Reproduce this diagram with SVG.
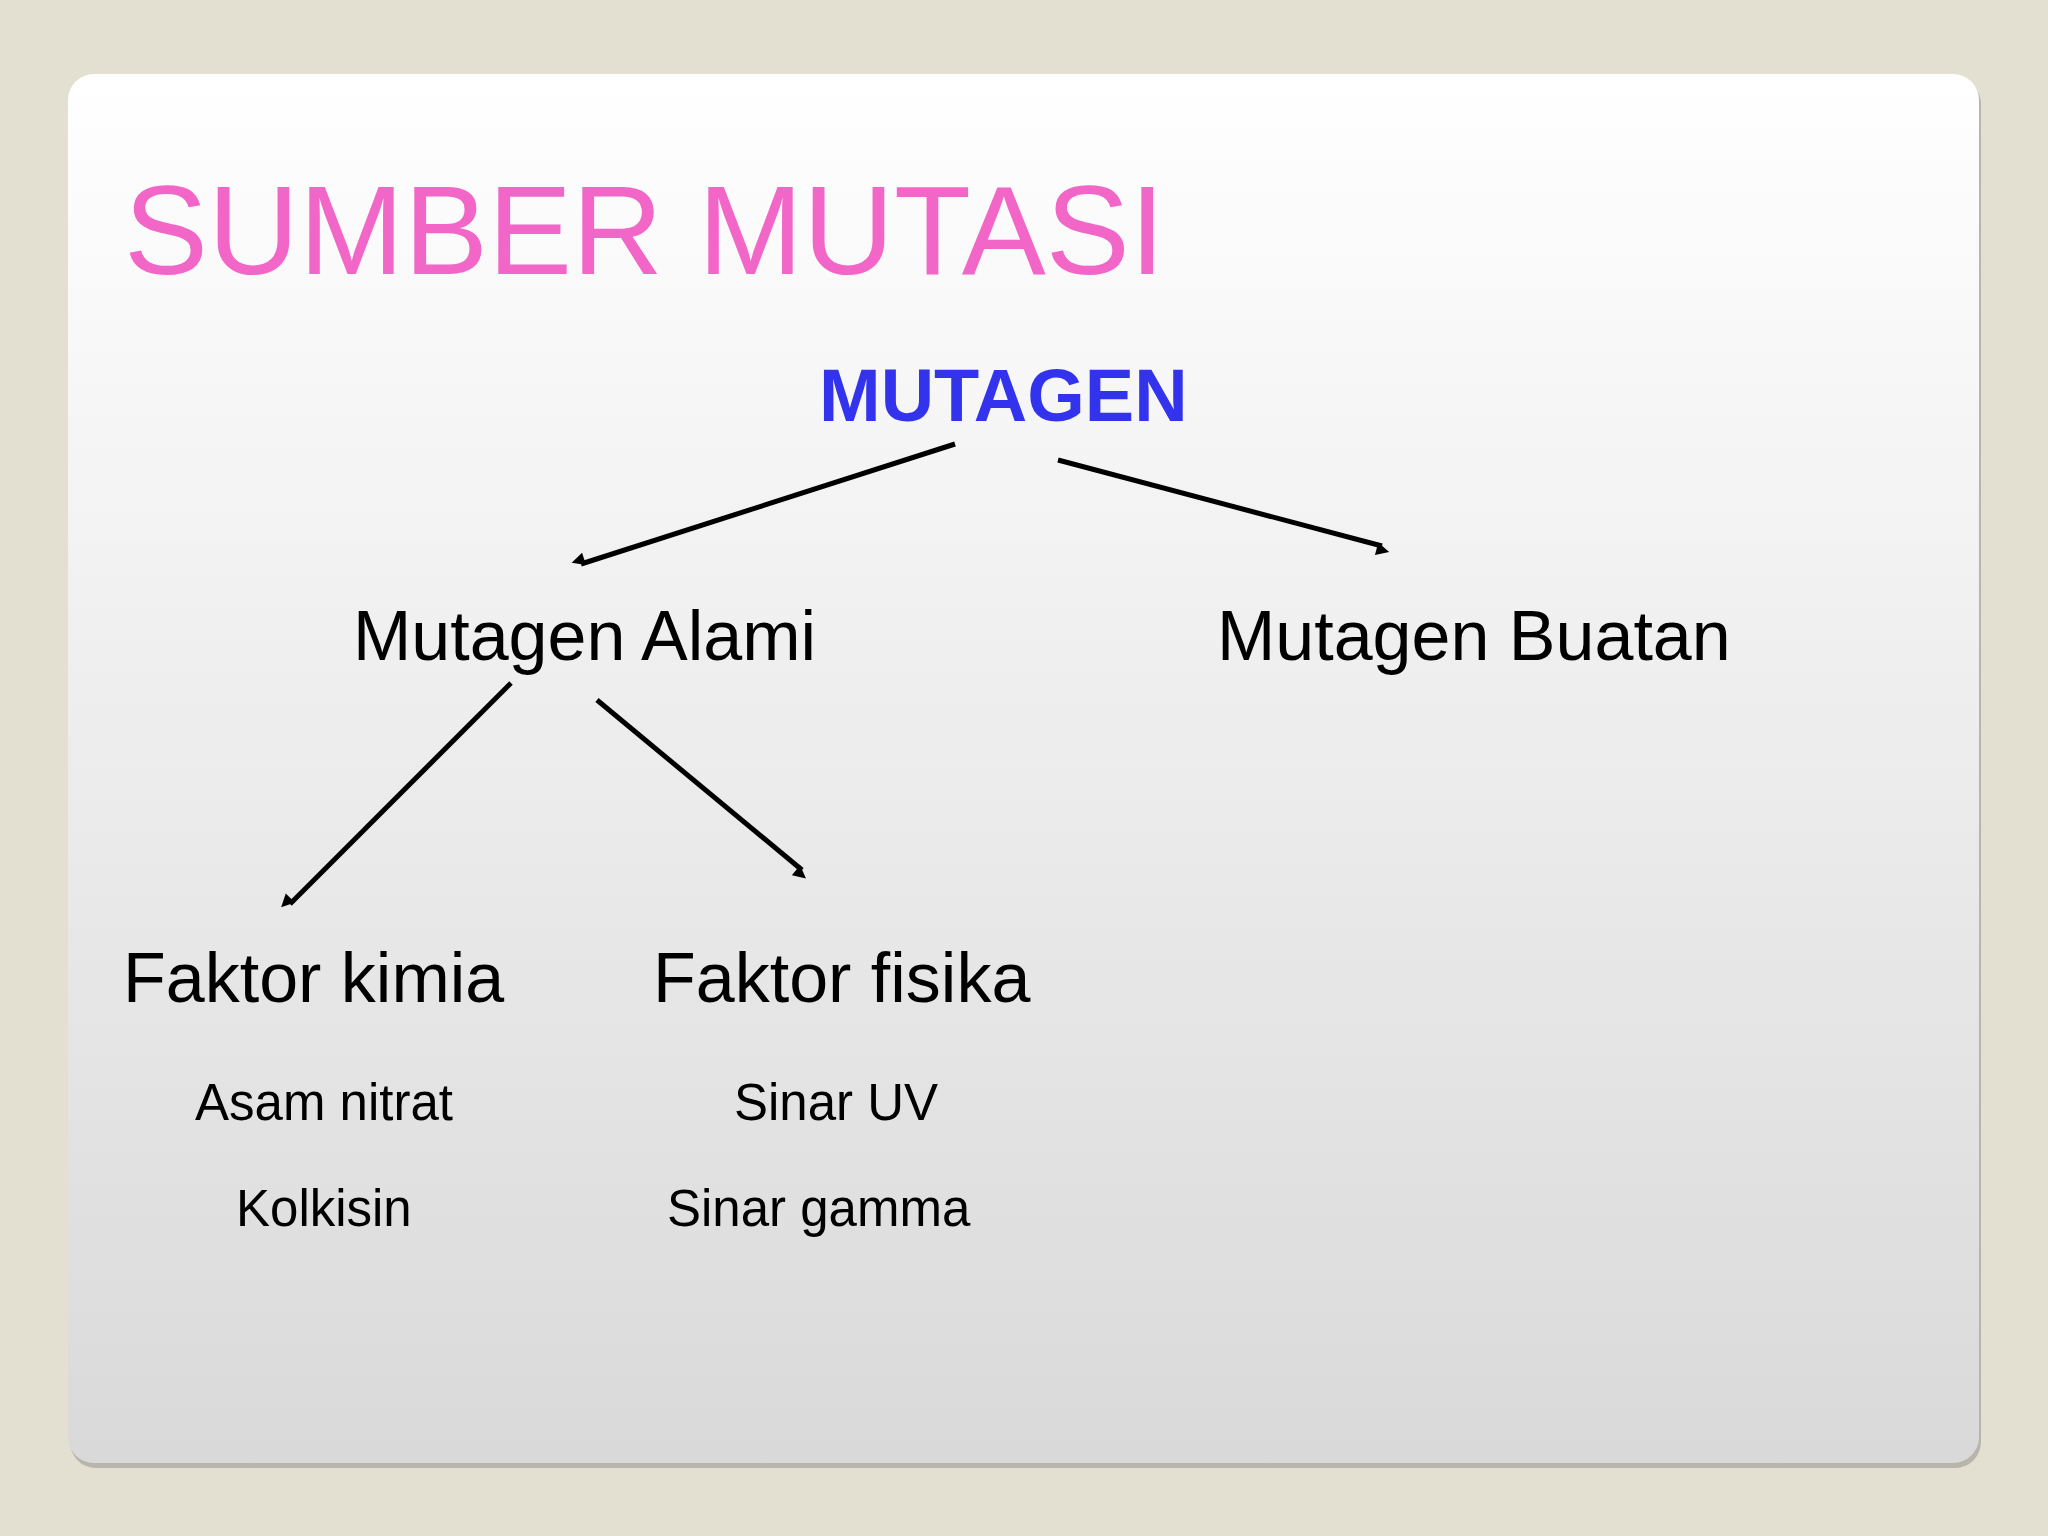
<svg xmlns="http://www.w3.org/2000/svg" width="2048" height="1536" viewBox="0 0 2048 1536">
<style>
text{font-family:"Liberation Sans",Arial,sans-serif;fill:#000}
.l{font-size:70px}.s{font-size:51px}
.c{stroke:#000;stroke-width:5;fill:none;marker-end:url(#a)}
</style>
<defs>
<linearGradient id="g" x1="0" y1="0" x2="0" y2="1"><stop offset="0" stop-color="#fff"/><stop offset="1" stop-color="#d9d9d9"/></linearGradient>
<marker id="a" viewBox="0 0 10 10" refX="9" refY="5" markerWidth="5" markerHeight="5" orient="auto" markerUnits="userSpaceOnUse" style="overflow:visible"><path d="M0,0L10,5L0,10z" fill="#000" transform="scale(2.6) translate(-6,-5) translate(6,5)"/></marker>
</defs>
<rect width="2048" height="1536" fill="#e3e0d2"/>
<rect x="70" y="78" width="1911" height="1390" rx="26" fill="#b8b6ac"/>
<rect x="68" y="74" width="1911" height="1389" rx="26" fill="url(#g)"/>
<text x="124" y="274" style="font-size:126px;fill:#f266c8">SUMBER MUTASI</text>
<text x="819" y="421" style="font-size:74px;font-weight:bold;fill:#3333ee">MUTAGEN</text>
<g id="connectors">
<line class="c" x1="955" y1="444" x2="581" y2="564"/>
<line class="c" x1="1058" y1="460" x2="1382" y2="546"/>
<line class="c" x1="511" y1="683" x2="290" y2="904"/>
<line class="c" x1="597" y1="700" x2="802" y2="870"/>
</g>
<g id="alami"><text class="l" x="353" y="660">Mutagen Alami</text></g>
<g id="buatan"><text class="l" x="1217" y="660">Mutagen Buatan</text></g>
<g id="kimia"><text class="l" x="123" y="1002">Faktor kimia</text>
<text class="s" x="195" y="1120">Asam nitrat</text>
<text class="s" x="236" y="1226">Kolkisin</text></g>
<g id="fisika"><text class="l" x="653" y="1002">Faktor fisika</text>
<text class="s" x="734" y="1120">Sinar UV</text>
<text class="s" x="667" y="1226">Sinar gamma</text></g>
</svg>
